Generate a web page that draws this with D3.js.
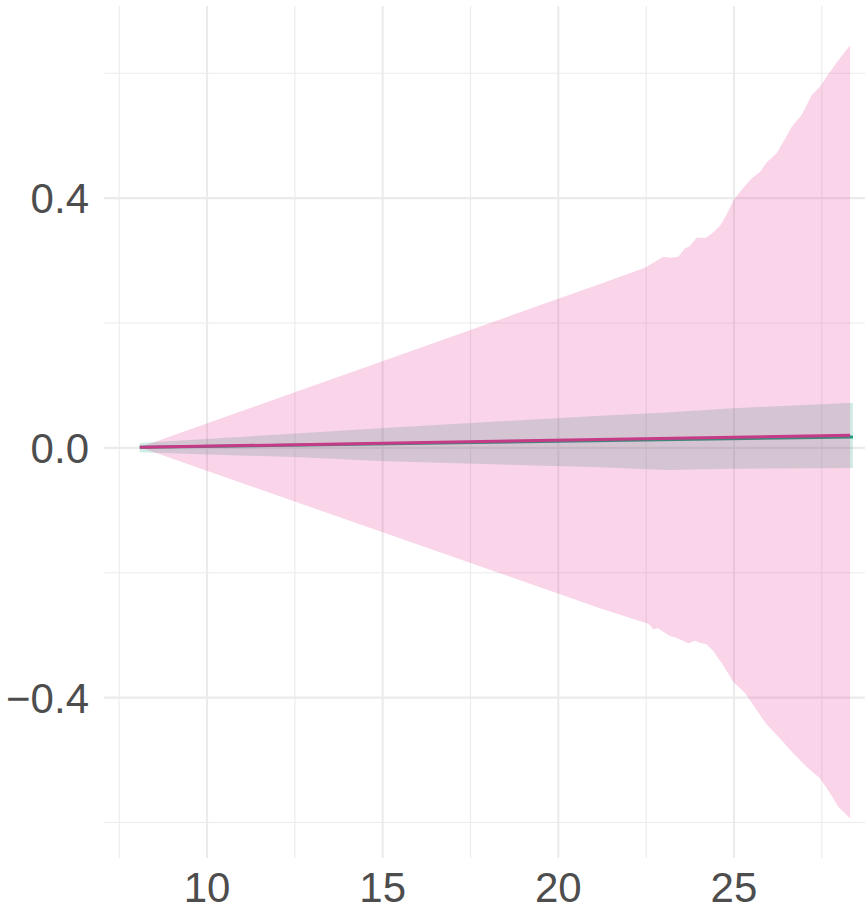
<!DOCTYPE html>
<html>
<head>
<meta charset="utf-8">
<script src="https://cdn.jsdelivr.net/npm/d3@7"></script>
<style>
  body { margin: 0; background: #fff; }
  svg { display: block; }
  .grid line { stroke: #EBEBEB; }
  .grid path { display: none; }
  .lab path, .lab line { display: none; }
  .lab text { font-family: "Liberation Sans", Arial, sans-serif; font-size: 42px; fill: #4D4D4D; }
</style>
</head>
<body>
<div id="chart"></div>
<script>
// tick values
var xMajor = [10, 15, 20, 25];
var xMinor = [7.5, 12.5, 17.5, 22.5, 27.5];
var yMajor = [-0.4, 0.0, 0.4];
var yMinor = [-0.6, -0.2, 0.2, 0.6];

// wide (pink) band
var pinkUpperX = [8.1, 21.20, 22.48, 22.81, 23.00, 23.19, 23.43, 23.62, 23.74, 23.95, 24.22, 24.43, 24.62, 24.81, 25.00, 25.23, 25.52, 25.76, 25.95, 26.23, 26.42, 26.66, 26.94, 27.23, 27.46, 27.75, 28.03, 28.32];
var pinkUpperY = [0, 0.2617, 0.2877, 0.2989, 0.3053, 0.3037, 0.3053, 0.3188, 0.3214, 0.3357, 0.3357, 0.3444, 0.3550, 0.3733, 0.3962, 0.4122, 0.4309, 0.4415, 0.4566, 0.4710, 0.4895, 0.5135, 0.5322, 0.5643, 0.5776, 0.6016, 0.6230, 0.6440];
var pinkLowerX = [8.1, 21.20, 22.53, 22.62, 22.71, 22.85, 23.19, 23.33, 23.52, 23.71, 23.90, 24.04, 24.23, 24.42, 24.70, 24.99, 25.32, 25.66, 25.94, 26.32, 26.70, 27.08, 27.46, 27.75, 27.98, 28.32];
var pinkLowerY = [0, -0.2577, -0.2817, -0.2844, -0.2915, -0.2898, -0.3023, -0.3043, -0.3087, -0.3140, -0.3099, -0.3131, -0.3152, -0.3259, -0.3484, -0.3755, -0.3930, -0.4207, -0.4436, -0.4660, -0.4900, -0.5115, -0.5301, -0.5541, -0.5755, -0.5938];

// narrow (teal) band
var tealX = [8.1, 12.67, 14.94, 21.2, 23.08, 25.0, 28.4];
var tealUpper = [0.007, 0.0226, 0.0306, 0.0508, 0.0560, 0.0626, 0.0716];
var tealLower = [-0.008, -0.0159, -0.0218, -0.0319, -0.0362, -0.0342, -0.0330];

// fitted lines
var tealLineX = [8.1, 28.4];
var tealLineY = [0, 0.0167];
var pinkLineX = [8.1, 28.32];
var pinkLineY = [0, 0.0194];

var w = 865, h = 920;
var panelLeft = 104, panelRight = 865, panelTop = 6, panelBottom = 858;

var x = d3.scaleLinear().domain([7.5, 27.5]).range([118.7, 821.3]);
var y = d3.scaleLinear().domain([-0.6, 0.6]).range([822, 72.7]);

var svg = d3.select("#chart").append("svg")
    .attr("width", w)
    .attr("height", h);

// gridlines
svg.append("g").attr("class", "grid")
    .attr("transform", "translate(0," + panelBottom + ")")
    .call(d3.axisBottom(x).tickValues(xMinor).tickSize(-(panelBottom - panelTop)).tickFormat(""))
    .selectAll("line").attr("stroke-width", 1.1);
svg.append("g").attr("class", "grid")
    .attr("transform", "translate(" + panelLeft + ",0)")
    .call(d3.axisLeft(y).tickValues(yMinor).tickSize(-(panelRight - panelLeft)).tickFormat(""))
    .selectAll("line").attr("stroke-width", 1.1);
svg.append("g").attr("class", "grid")
    .attr("transform", "translate(0," + panelBottom + ")")
    .call(d3.axisBottom(x).tickValues(xMajor).tickSize(-(panelBottom - panelTop)).tickFormat(""))
    .selectAll("line").attr("stroke-width", 2.1);
svg.append("g").attr("class", "grid")
    .attr("transform", "translate(" + panelLeft + ",0)")
    .call(d3.axisLeft(y).tickValues(yMajor).tickSize(-(panelRight - panelLeft)).tickFormat(""))
    .selectAll("line").attr("stroke-width", 2.1);

// lines (drawn under the bands)
var line = d3.line().x(function(d) { return x(d[0]); }).y(function(d) { return y(d[1]); });

svg.append("path")
    .datum(d3.zip(tealLineX, tealLineY))
    .attr("d", line)
    .attr("fill", "none")
    .attr("stroke", "#1B9E77")
    .attr("stroke-width", 3);
svg.append("path")
    .datum(d3.zip(pinkLineX, pinkLineY))
    .attr("d", line)
    .attr("fill", "none")
    .attr("stroke", "#E7298A")
    .attr("stroke-width", 3);

// bands
function band(ux, uy, lx, ly) {
    var pts = d3.zip(ux, uy).concat(d3.zip(lx, ly).reverse());
    return line(pts) + "Z";
}

svg.append("path")
    .attr("d", band(tealX, tealUpper, tealX, tealLower))
    .attr("fill", "#1B9E77")
    .attr("fill-opacity", 0.2);

svg.append("path")
    .attr("d", band(pinkUpperX, pinkUpperY, pinkLowerX, pinkLowerY))
    .attr("fill", "#E7298A")
    .attr("fill-opacity", 0.2);

// axis labels
var yl = svg.append("g").attr("class", "lab")
    .attr("transform", "translate(" + panelLeft + ",0)")
    .call(d3.axisLeft(y).tickValues(yMajor).tickSize(0).tickPadding(15).tickFormat(d3.format(".1f")));
yl.selectAll("text").attr("dy", "0.36em");

svg.append("g").attr("class", "lab")
    .attr("transform", "translate(0," + panelBottom + ")")
    .call(d3.axisBottom(x).tickValues(xMajor).tickSize(0).tickPadding(14.5).tickFormat(d3.format("d")));
</script>
</body>
</html>
